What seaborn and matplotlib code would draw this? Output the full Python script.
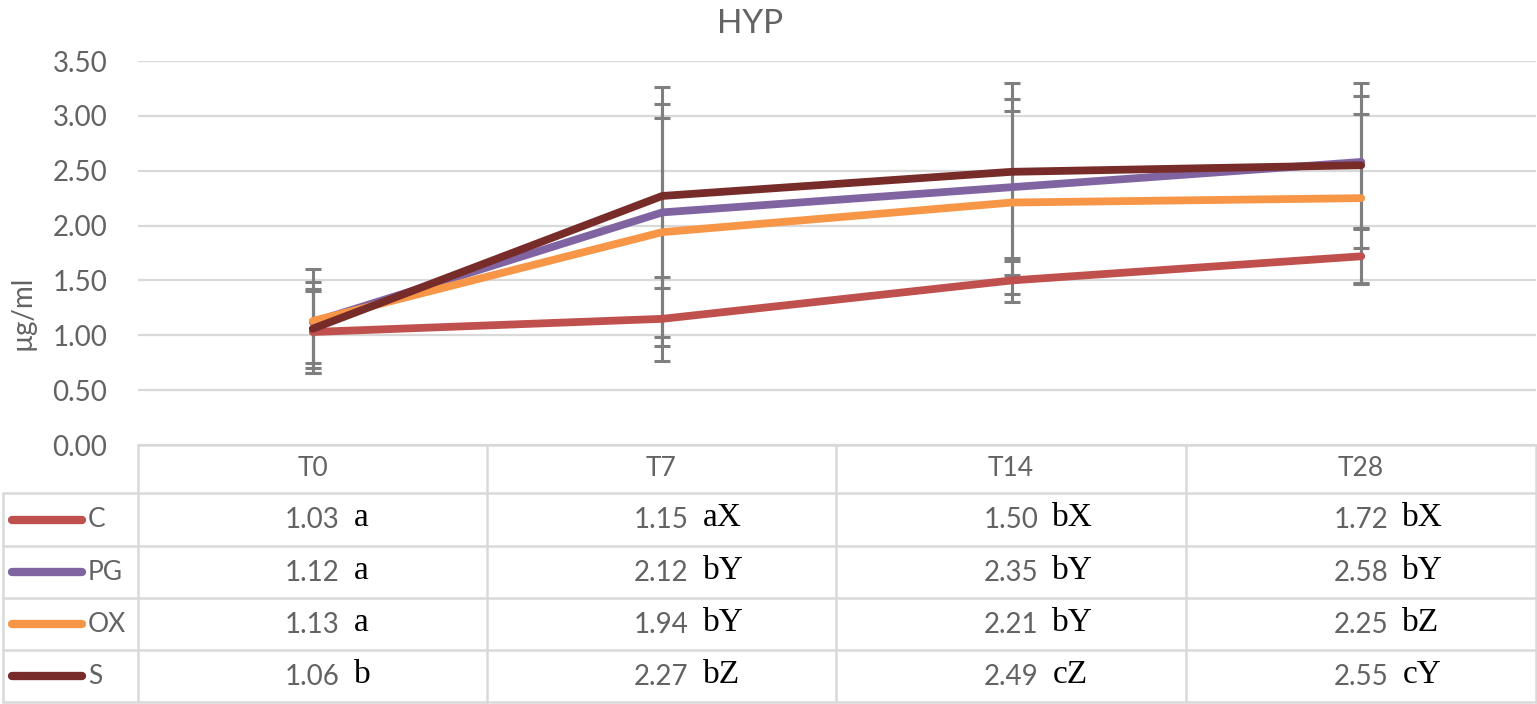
import numpy as np
import pandas as pd
import matplotlib
matplotlib.use("Agg")
import matplotlib.pyplot as plt
import seaborn as sns

# ---------------- data ----------------
times = ["T0", "T7", "T14", "T28"]
groups = ["C", "PG", "OX", "S"]
C_vals = [1.03, 1.15, 1.50, 1.72]
PG_vals = [1.12, 2.12, 2.35, 2.58]
OX_vals = [1.13, 1.94, 2.21, 2.25]
S_vals = [1.06, 2.27, 2.49, 2.55]
C_err = [0.37, 0.38, 0.20, 0.25]
PG_err = [0.37, 1.14, 0.80, 0.60]
OX_err = [0.47, 1.04, 0.83, 0.77]
S_err = [0.36, 0.84, 0.81, 0.75]
C_sig = ["a", "aX", "bX", "bX"]
PG_sig = ["a", "bY", "bY", "bY"]
OX_sig = ["a", "bY", "bY", "bZ"]
S_sig = ["b", "bZ", "cZ", "cY"]
yticks = [0.0, 0.5, 1.0, 1.5, 2.0, 2.5, 3.0, 3.5]

values = {"C": C_vals, "PG": PG_vals, "OX": OX_vals, "S": S_vals}
errors = {"C": C_err, "PG": PG_err, "OX": OX_err, "S": S_err}
sigs = {"C": C_sig, "PG": PG_sig, "OX": OX_sig, "S": S_sig}
colors = {"C": "#C0504D", "PG": "#8064A2", "OX": "#F79646", "S": "#772C2A"}

df = pd.DataFrame(
    [(g, t, values[g][i]) for g in groups for i, t in enumerate(times)],
    columns=["group", "time", "value"],
)

# ---------------- style ----------------
sns.set_theme(style="white")
plt.rcParams["font.family"] = ["Lato", "DejaVu Sans"]
TXT = "#636363"
GRID = "#D9D9D9"

W, H = 1537, 704
fig = plt.figure(figsize=(W / 100, H / 100), dpi=100)

# main plot area (pixel layout)
left, right, top, bottom = 138, 1536, 61, 445
ax = fig.add_axes([left / W, 1 - bottom / H, (right - left) / W, (bottom - top) / H])

# error bars (under lines)
for g in groups:
    ax.errorbar(times, values[g], yerr=errors[g], fmt="none", ecolor="#7F7F7F",
                elinewidth=2.2, capsize=6, capthick=2.2, zorder=2)

sns.lineplot(data=df, x="time", y="value", hue="group", hue_order=groups,
             palette=colors, linewidth=5.6, sort=False, legend=False, ax=ax,
             zorder=3)
for ln in ax.get_lines():
    ln.set_solid_capstyle("round")
    ln.set_solid_joinstyle("round")

ax.set_xlim(-0.5, 3.5)
ax.set_ylim(0, 3.5)
ax.set_yticks(yticks)
ax.set_yticklabels([f"{v:.2f}" for v in yticks], fontsize=20, color=TXT)
ax.tick_params(axis="y", length=0, pad=22)
ax.set_xticks(range(len(times)))
ax.set_xticklabels([])
ax.tick_params(axis="x", length=0)
ax.set_xlabel("")
ax.set_ylabel("")
ax.grid(axis="y", color=GRID, linewidth=1.6)
ax.grid(axis="x", visible=False)
for s in ax.spines.values():
    s.set_visible(False)

# overlay in pixel coordinates for title / ylabel / data table
ov = fig.add_axes([0, 0, 1, 1], zorder=5)
ov.set_xlim(0, W)
ov.set_ylim(H, 0)
ov.axis("off")
ov.patch.set_visible(False)

ov.text(750, 24, "HYP", ha="center", va="center", fontsize=24, color=TXT)
ov.text(23, 313, "µg/ml", ha="center", va="center", rotation=90, fontsize=20, color=TXT)

col_edges = [138, 487, 836, 1186, 1536]
row_edges = [445, 493, 546, 598, 650, 702]
lw_tab = 1.8
# horizontal lines
ov.plot([col_edges[0], col_edges[-1]], [row_edges[0]] * 2, color=GRID, lw=lw_tab)
for y in row_edges[1:]:
    ov.plot([3, col_edges[-1]], [y, y], color=GRID, lw=lw_tab)
# vertical lines
ov.plot([3, 3], [row_edges[1], row_edges[-1]], color=GRID, lw=lw_tab)
for x in col_edges:
    ov.plot([x, x], [row_edges[0], row_edges[-1]], color=GRID, lw=lw_tab)

# header
for j, t in enumerate(times):
    cx = (col_edges[j] + col_edges[j + 1]) / 2
    ov.text(cx, (row_edges[0] + row_edges[1]) / 2, t, ha="center", va="center",
            fontsize=19, color=TXT)

# body rows
for i, g in enumerate(groups):
    cy = (row_edges[i + 1] + row_edges[i + 2]) / 2
    ov.plot([12, 82], [cy, cy], color=colors[g], lw=6, solid_capstyle="round")
    ov.text(88, cy, g, ha="left", va="center", fontsize=19, color=TXT)
    for j in range(len(times)):
        cx = (col_edges[j] + col_edges[j + 1]) / 2
        num = ov.text(cx, cy + 9, f"{values[g][j]:.2f}", ha="center", va="baseline",
                      fontsize=20, color=TXT)
        ov.annotate(sigs[g][j], xy=(1, 0), xycoords=num, xytext=(10, 0),
                    textcoords="offset points", ha="left", va="bottom",
                    fontsize=24, color="black", family="Liberation Serif")

fig.savefig("out.png", dpi=100, facecolor="white")
